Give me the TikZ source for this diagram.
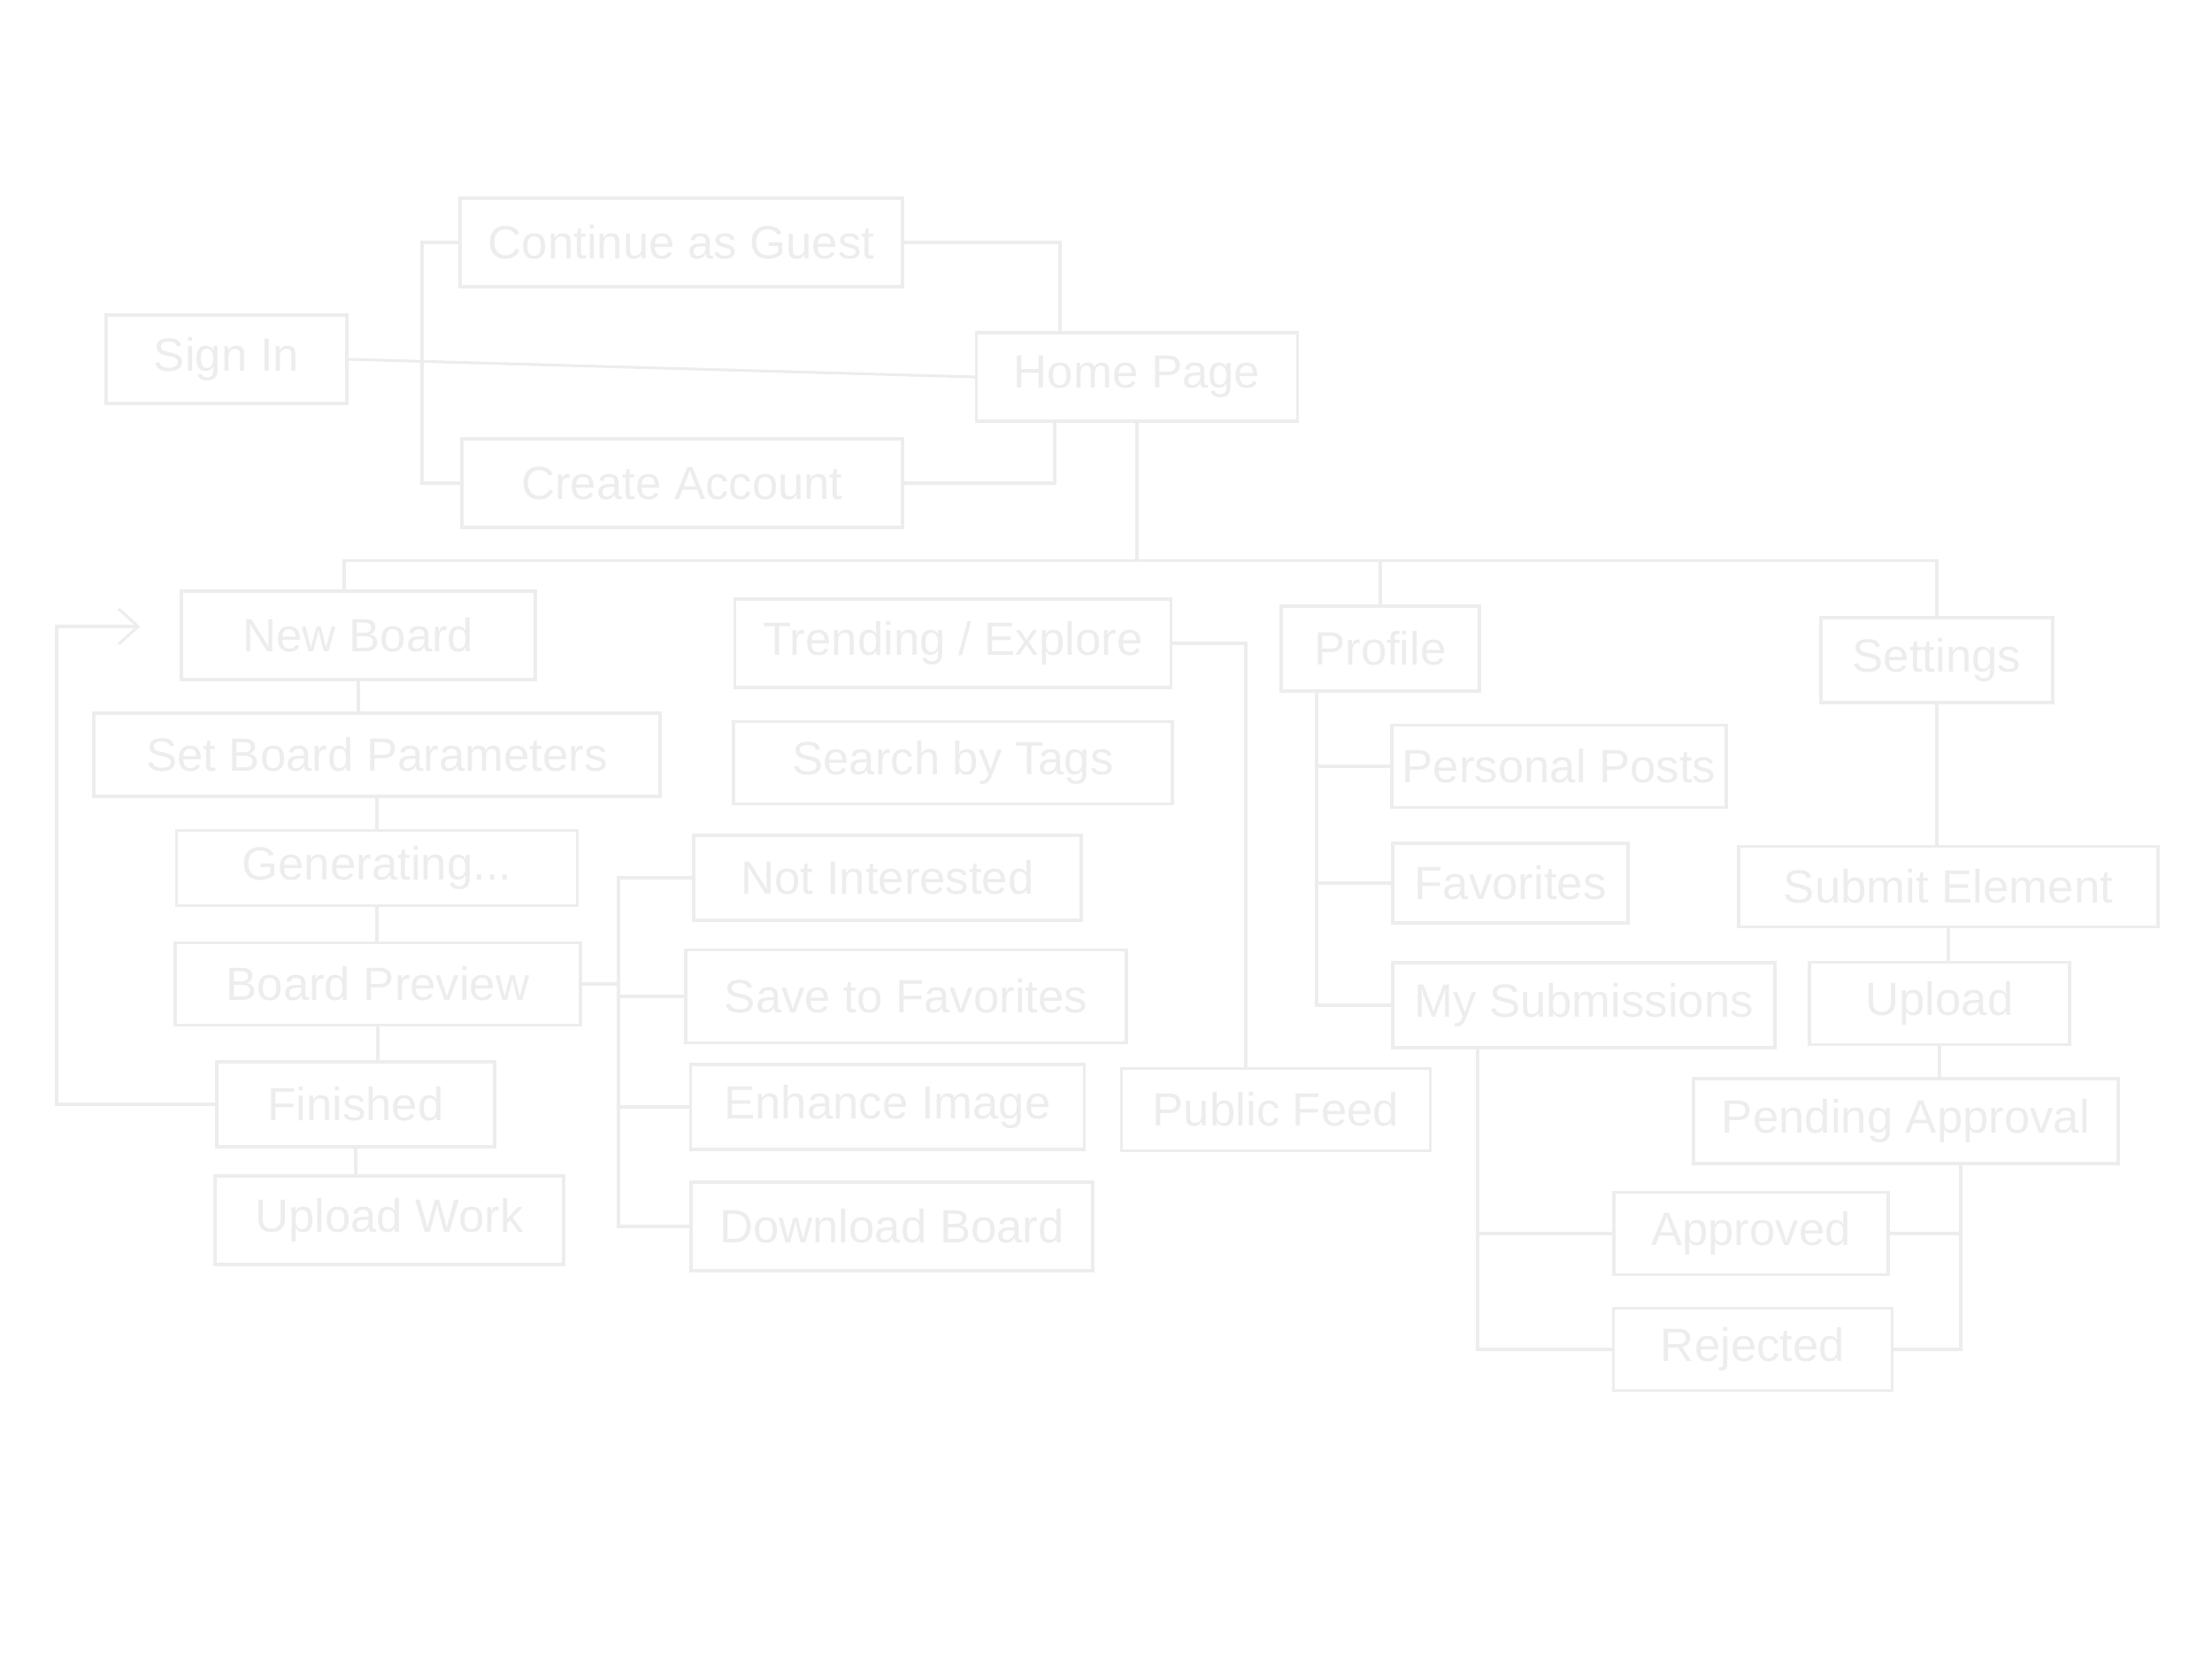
\documentclass[tikz,border=0pt]{standalone}
\usepackage{fontspec}
\setmainfont{Liberation Sans}
\usepackage{tikz}
\usetikzlibrary{arrows.meta}

\definecolor{chalk}{gray}{0.93}

\begin{document}
\begin{tikzpicture}[
        every node/.style={rectangle, draw=chalk, text=chalk, line width=0.9pt,
          minimum height=1cm, font=\fontsize{15}{18}\selectfont},
        link/.style={draw=chalk, line width=0.9pt},
        back/.style={link, -{Straight Barb[length=2.2mm, width=4mm]}, shorten >=0.45cm}
      ]
        \useasboundingbox (0,0) rectangle (25,-18.75);

        % Entry
        \node[minimum width=2.72cm] (signin) at (2.56,-4.06) {Sign In};
        \node[minimum width=5.0cm] (guest) at (7.70,-2.74) {Continue as Guest};
        \node[minimum width=4.98cm] (acct) at (7.71,-5.46) {Create Account};
        \node[minimum width=3.63cm] (home) at (12.85,-4.26) {Home Page};

        % Main sections
        \node[minimum width=4.0cm] (newb) at (4.05,-7.18) {New Board};
        \node[minimum width=4.93cm] (trend) at (10.77,-7.27) {Trending / Explore};
        \node[minimum width=2.24cm, minimum height=0.96cm] (prof) at (15.6,-7.33) {Profile};
        \node[minimum width=2.62cm, minimum height=0.96cm] (sett) at (21.89,-7.46) {Settings};

        % Board flow
        \node[minimum width=6.4cm, minimum height=0.94cm] (param) at (4.26,-8.53) {Set Board Parameters};
        \node[minimum width=4.53cm, minimum height=0.85cm] (gen) at (4.26,-9.81) {Generating...};
        \node[minimum width=4.58cm, minimum height=0.93cm] (prev) at (4.27,-11.12) {Board Preview};
        \node[minimum width=3.14cm, minimum height=0.96cm] (fin) at (4.02,-12.48) {Finished};
        \node[minimum width=3.94cm] (upw) at (4.4,-13.79) {Upload Work};

        % Explore column
        \node[minimum width=4.96cm, minimum height=0.93cm] (tags) at (10.77,-8.62) {Search by Tags};
        \node[minimum width=4.38cm, minimum height=0.96cm] (notint) at (10.03,-9.92) {Not Interested};
        \node[minimum width=4.98cm, minimum height=1.05cm] (save) at (10.24,-11.26) {Save to Favorites};
        \node[minimum width=4.45cm, minimum height=0.96cm] (enh) at (10.03,-12.51) {Enhance Image};
        \node[minimum width=4.54cm] (dl) at (10.08,-13.86) {Download Board};
        \node[minimum width=3.49cm, minimum height=0.93cm] (feed) at (14.42,-12.54) {Public Feed};

        % Profile column
        \node[minimum width=3.74cm, minimum height=0.93cm] (post) at (17.62,-8.66) {Personal Posts};
        \node[minimum width=2.66cm, minimum height=0.9cm] (fav) at (17.07,-9.98) {Favorites};
        \node[minimum width=4.32cm, minimum height=0.96cm] (subs) at (17.9,-11.36) {My Submissions};

        % Submissions
        \node[minimum width=4.74cm, minimum height=0.91cm] (subm) at (22.02,-10.02) {Submit Element};
        \node[minimum width=2.94cm, minimum height=0.93cm] (upl) at (21.92,-11.34) {Upload};
        \node[minimum width=4.8cm, minimum height=0.96cm] (pend) at (21.54,-12.67) {Pending Approval};
        \node[minimum width=3.1cm, minimum height=0.93cm] (appr) at (19.79,-13.94) {Approved};
        \node[minimum width=3.15cm, minimum height=0.93cm] (rej) at (19.81,-15.25) {Rejected};

        % Sign in branches
        \coordinate (sbus) at (4.77,-4.06);
        \draw[link] (signin.east) -- (home.west);
        \draw[link] (guest.west) -| (sbus) |- (acct.west);
        \draw[link] (guest.east) -| ([xshift=0.96cm]home.north west);
        \draw[link] (acct.east) -| ([xshift=0.9cm]home.south west);

        % Home to sections
        \draw[link] (home.south) -- ++(0,-1.56) coordinate (hub);
        \draw[link] ([xshift=-0.16cm]newb.north) |- (hub) -| (sett.north);
        \draw[link] (prof.north) -- (prof.north |- hub);

        % Board steps
        \draw[link] (newb.south) -- (newb.south |- param.north);
        \draw[link] (param.south) -- (param.south |- gen.north);
        \draw[link] (gen.south) -- (gen.south |- prev.north);
        \draw[link] (prev.south) -- (prev.south |- fin.north);
        \draw[link] (fin.south) -- (fin.south |- upw.north);
        \coordinate (loopx) at (0.64,0);
        \draw[back] (fin.west) -- (fin.west -| loopx) |- ([yshift=0.1cm]newb.west);

        % Preview options
        \coordinate (pbus) at (6.99,0);
        \draw[link] (prev.east) -- (prev.east -| pbus);
        \draw[link] (notint.west) -| (pbus |- dl.west) -- (dl.west);
        \draw[link] (save.west) -- (save.west -| pbus);
        \draw[link] (enh.west) -- (enh.west -| pbus);

        % Explore to feed
        \draw[link] (trend.east) -| ([xshift=-0.34cm]feed.north);

        % Profile items
        \coordinate (probus) at ([xshift=-0.72cm]prof.south);
        \draw[link] (probus) |- (subs.west);
        \draw[link] (post.west) -- (post.west -| probus);
        \draw[link] (fav.west) -- (fav.west -| probus);

        % Settings chain
        \draw[link] (sett.south) -- (sett.south |- subm.north);
        \draw[link] (subm.south) -- (subm.south |- upl.north);
        \draw[link] (upl.south) -- (upl.south |- pend.north);

        % Review outcomes
        \coordinate (penbus) at ([xshift=0.62cm]pend.south);
        \draw[link] (penbus) |- (rej.east);
        \draw[link] (appr.east) -- (appr.east -| penbus);
        \coordinate (subbus) at ([xshift=-1.2cm]subs.south);
        \draw[link] (subbus) |- (rej.west);
        \draw[link] (appr.west) -- (appr.west -| subbus);

    \end{tikzpicture}
\end{document}
